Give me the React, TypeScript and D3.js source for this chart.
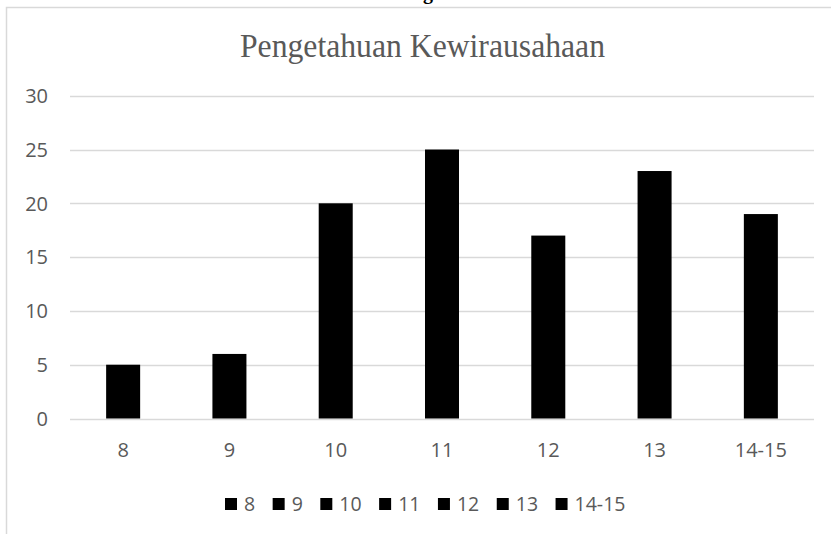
import React, { useEffect, useRef } from "react";
import * as d3 from "d3";

const categories = ["8", "9", "10", "11", "12", "13", "14-15"];
const values = [5, 6, 20, 25, 17, 23, 19];
const yTicks = [0, 5, 10, 15, 20, 25, 30];
const chartTitle = "Pengetahuan Kewirausahaan";

const App = () => {
  const svgRef = useRef<SVGSVGElement>(null);

  useEffect(() => {
    const width = 831;
    const height = 534;
    const margin = { left: 70, right: 17, top: 95.7, bottom: 115.5 };
    const grey = "#595959";
    const axisFont = "'Open Sans', sans-serif";

    const svg = d3.select(svgRef.current);
    svg.selectAll("*").remove();
    svg.attr("width", width).attr("height", height);

    // chart frame (runs off the right and bottom of the picture)
    svg.append("rect")
      .attr("x", 6.5).attr("y", 7.5)
      .attr("width", 900).attr("height", 600)
      .attr("fill", "white")
      .attr("stroke", "#d9d9d9")
      .attr("stroke-width", 1.5);

    // cut-off heading above the chart
    svg.append("text")
      .attr("x", 428).attr("y", -1)
      .attr("text-anchor", "middle")
      .attr("font-family", "'Liberation Serif', serif")
      .attr("font-weight", "bold")
      .attr("font-size", 20)
      .text("g");

    const xScale = d3.scaleBand()
      .domain(categories)
      .range([margin.left, width - margin.right])
      .paddingInner(0.68)
      .paddingOuter(0.34);

    const yScale = d3.scaleLinear()
      .domain([0, 30])
      .range([height - margin.bottom, margin.top]);

    // gridlines
    svg.append("g")
      .selectAll("line")
      .data(yTicks)
      .enter()
      .append("line")
      .attr("x1", margin.left)
      .attr("x2", width - margin.right)
      .attr("y1", d => Math.round(yScale(d)) + 0.5)
      .attr("y2", d => Math.round(yScale(d)) + 0.5)
      .attr("stroke", "#d9d9d9")
      .attr("stroke-width", 1.5);

    // y labels
    svg.append("g")
      .selectAll("text")
      .data(yTicks)
      .enter()
      .append("text")
      .attr("x", 48)
      .attr("y", d => yScale(d))
      .attr("dy", "0.36em")
      .attr("text-anchor", "end")
      .attr("font-family", axisFont)
      .attr("font-size", 20)
      .attr("fill", grey)
      .text(d => d);

    // bars
    svg.append("g")
      .selectAll("rect")
      .data(values)
      .enter()
      .append("rect")
      .attr("x", (d, i) => xScale(categories[i])!)
      .attr("y", d => yScale(d))
      .attr("width", xScale.bandwidth())
      .attr("height", d => yScale(0) - yScale(d))
      .attr("fill", "black");

    // x labels
    svg.append("g")
      .selectAll("text")
      .data(categories)
      .enter()
      .append("text")
      .attr("x", d => xScale(d)! + xScale.bandwidth() / 2)
      .attr("y", 450)
      .attr("dy", "0.36em")
      .attr("text-anchor", "middle")
      .attr("font-family", axisFont)
      .attr("font-size", 20)
      .attr("fill", grey)
      .text(d => d);

    // title
    svg.append("text")
      .attr("x", 240).attr("y", 57)
      .attr("font-family", "'Liberation Serif', 'Times New Roman', serif")
      .attr("font-size", 33)
      .attr("fill", grey)
      .attr("textLength", 365)
      .attr("lengthAdjust", "spacingAndGlyphs")
      .text(chartTitle);

    // legend
    const legend = svg.append("g");
    let lx = 225;
    categories.forEach(c => {
      legend.append("rect")
        .attr("x", lx).attr("y", 498)
        .attr("width", 12).attr("height", 12)
        .attr("fill", "black");
      const t = legend.append("text")
        .attr("x", lx + 19).attr("y", 504)
        .attr("dy", "0.36em")
        .attr("font-family", axisFont)
        .attr("font-size", 19.5)
        .attr("fill", grey)
        .text(c);
      const w = (t.node() as SVGTextElement).getComputedTextLength();
      lx += 19 + w + 17.5;
    });
  }, []);

  return (
    <svg ref={svgRef} style={{ position: "absolute", left: 0, top: 0, display: "block" }} />
  );
};

export default App;
